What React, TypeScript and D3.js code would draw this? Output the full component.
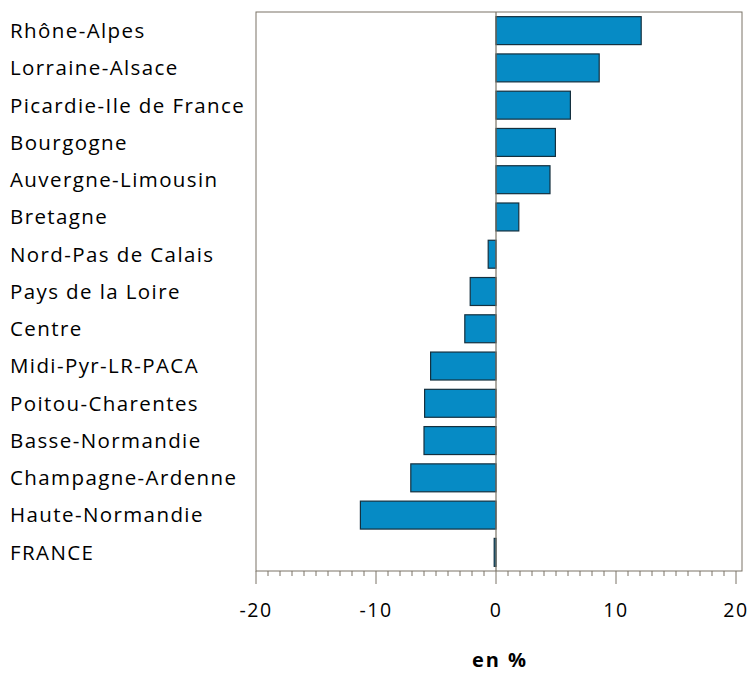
import React from "react";
import * as d3 from "d3";

const categories = [
  "Rhône-Alpes",
  "Lorraine-Alsace",
  "Picardie-Ile de France",
  "Bourgogne",
  "Auvergne-Limousin",
  "Bretagne",
  "Nord-Pas de Calais",
  "Pays de la Loire",
  "Centre",
  "Midi-Pyr-LR-PACA",
  "Poitou-Charentes",
  "Basse-Normandie",
  "Champagne-Ardenne",
  "Haute-Normandie",
  "FRANCE",
];
const values = [12.1, 8.6, 6.2, 4.95, 4.5, 1.9, -0.65, -2.15, -2.6, -5.45, -5.95, -6.0, -7.1, -11.3, -0.15];
const majorTicks = [-20, -10, 0, 10, 20];
const xTitle = "en %";

const W = 750;
const H = 673;
const FONT = "'Open Sans', 'Noto Sans', sans-serif";
const FRAME = "#7a7366";

export default function App() {
  const left = 256;
  const right = 742;
  const top = 12;
  const bottom = 571;
  const x = d3.scaleLinear().domain([-20, 20]).range([256, 736]);
  const y = d3
    .scaleBand<string>()
    .domain(categories)
    .range([top, bottom])
    .paddingInner(0.25)
    .paddingOuter(0.125);
  const minor = d3.range(-20, 21, 1);

  return (
    <svg width={W} height={H} style={{ position: "absolute", left: 0, top: 0, background: "#fff" }}>
      {categories.map((c) => (
        <text
          key={c}
          x={10}
          y={(y(c) ?? 0) + y.bandwidth() / 2}
          dy="0.36em"
          fontFamily={FONT}
          fontSize={20.5}
          letterSpacing={1.4}
          fill="#000"
        >
          {c}
        </text>
      ))}
      <rect x={left} y={top} width={right - left} height={bottom - top} fill="none" stroke={FRAME} strokeWidth={1} />
      {categories.map((c, i) => {
        const v = values[i];
        const x0 = x(Math.min(0, v));
        const x1 = x(Math.max(0, v));
        return (
          <rect
            key={c}
            x={x0}
            y={y(c)}
            width={x1 - x0}
            height={y.bandwidth()}
            fill="#068bc5"
            stroke="#14303f"
            strokeWidth={1.2}
          />
        );
      })}
      <line x1={x(0)} x2={x(0)} y1={top} y2={bottom} stroke={FRAME} strokeWidth={1.2} />
      {minor.map((t) => (
        <line
          key={t}
          x1={x(t)}
          x2={x(t)}
          y1={bottom}
          y2={bottom + (t % 10 === 0 ? 13 : 5)}
          stroke={FRAME}
          strokeWidth={1}
        />
      ))}
      {majorTicks.map((t) => (
        <text
          key={t}
          x={x(t)}
          y={610}
          dy="0.36em"
          textAnchor="middle"
          fontFamily={FONT}
          fontSize={19.5}
          letterSpacing={1.5}
          fill="#000"
        >
          {t}
        </text>
      ))}
      <text
        x={500}
        y={660}
        dy="0.36em"
        textAnchor="middle"
        fontFamily={FONT}
        fontSize={20}
        letterSpacing={2}
        fontWeight="bold"
        fill="#000"
      >
        {xTitle}
      </text>
    </svg>
  );
}
